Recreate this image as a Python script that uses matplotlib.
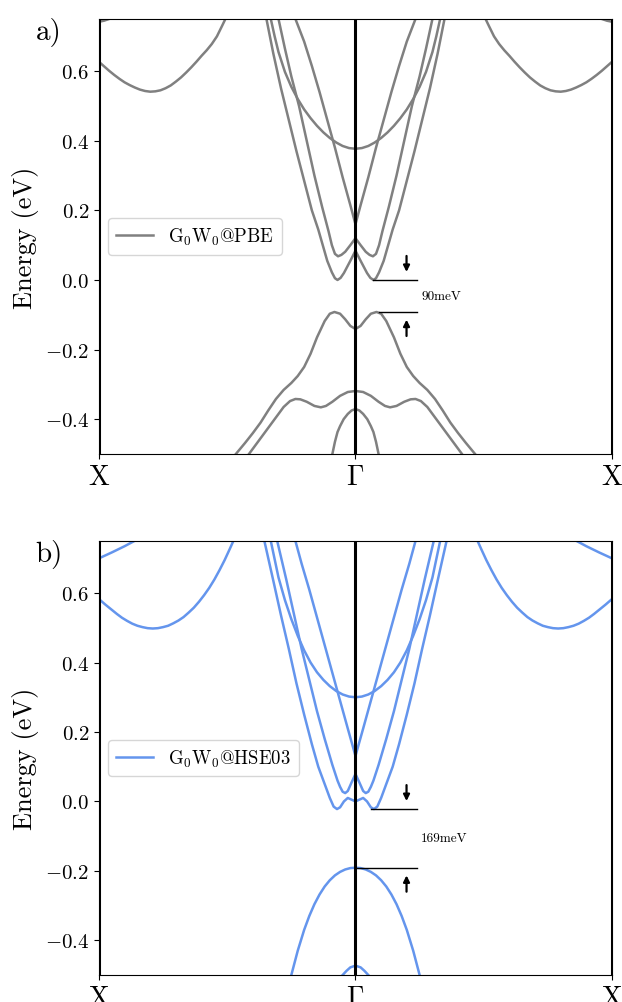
import matplotlib
matplotlib.use("Agg")
import matplotlib.pyplot as plt
import numpy as np

# k runs from Gamma (0) to X (1); bands are symmetric, only the Gamma-X half is listed
# ---------------- G0W0@PBE ----------------
pbe_c1_k = [0.507, 0.52, 0.54, 0.56, 0.58, 0.60, 0.62, 0.64, 0.66, 0.68, 0.70, 0.72, 0.74, 0.76,
            0.78, 0.80, 0.82, 0.84, 0.86, 0.88, 0.90, 0.92, 0.94, 0.96, 0.98, 1.0]
pbe_c1_e = [0.75, 0.73, 0.70, 0.678, 0.66, 0.644, 0.627, 0.611, 0.596, 0.582, 0.570, 0.559, 0.551,
            0.545, 0.542, 0.541, 0.543, 0.547, 0.553, 0.560, 0.568, 0.578, 0.589, 0.601, 0.614, 0.627]
pbe_c2_k = [0.96, 0.98, 1.0]
pbe_c2_e = [0.75, 0.745, 0.742]
pbe_par_k = [0.0, 0.025, 0.05, 0.075, 0.10, 0.125, 0.15, 0.175, 0.20, 0.225, 0.25, 0.275, 0.30,
             0.315, 0.33]
pbe_par_e = [0.377, 0.379, 0.385, 0.395, 0.408, 0.424, 0.443, 0.465, 0.49, 0.52, 0.555, 0.598,
             0.655, 0.70, 0.75]
pbe_v_k = [0.0, 0.02, 0.05, 0.08, 0.11, 0.14, 0.17, 0.20, 0.234]
pbe_v_e = [0.16, 0.215, 0.295, 0.38, 0.46, 0.54, 0.615, 0.685, 0.75]
pbe_w1_k = [0.0, 0.02, 0.04, 0.055, 0.068, 0.08, 0.092, 0.105, 0.13, 0.16, 0.19, 0.22, 0.25,
            0.275, 0.30]
pbe_w1_e = [0.12, 0.10, 0.081, 0.072, 0.068, 0.075, 0.10, 0.14, 0.21, 0.30, 0.40, 0.50, 0.585,
            0.665, 0.75]
pbe_w2_k = [0.0, 0.02, 0.045, 0.058, 0.07, 0.08, 0.092, 0.11, 0.145, 0.17, 0.20, 0.23, 0.26,
            0.29, 0.32, 0.347]
pbe_w2_e = [0.084, 0.055, 0.02, 0.006, 0.0, 0.005, 0.022, 0.055, 0.145, 0.20, 0.285, 0.37, 0.46,
            0.55, 0.65, 0.75]
pbe_vb1_k = [0.0, 0.02, 0.04, 0.06, 0.082, 0.10, 0.12, 0.15, 0.175, 0.20, 0.225, 0.25, 0.28,
             0.31, 0.34, 0.37, 0.40, 0.43, 0.466]
pbe_vb1_e = [-0.141, -0.132, -0.113, -0.097, -0.092, -0.097, -0.118, -0.165, -0.212, -0.25,
             -0.276, -0.296, -0.316, -0.342, -0.375, -0.41, -0.44, -0.468, -0.5]
pbe_vb2_k = [0.0, 0.03, 0.06, 0.09, 0.115, 0.135, 0.16, 0.19, 0.215, 0.234, 0.255, 0.28, 0.31,
             0.34, 0.37, 0.415]
pbe_vb2_e = [-0.319, -0.322, -0.333, -0.35, -0.362, -0.366, -0.362, -0.35, -0.343, -0.342,
             -0.348, -0.365, -0.395, -0.425, -0.455, -0.5]
pbe_vb3_k = [0.0, 0.015, 0.03, 0.046, 0.06, 0.07, 0.08, 0.09]
pbe_vb3_e = [-0.371, -0.375, -0.385, -0.40, -0.42, -0.437, -0.465, -0.5]
pbe_gap = dict(cbm=0.0, k_cbm=0.07, vbm=-0.092, k_vbm=0.09, text="90meV")

# ---------------- G0W0@HSE03 ----------------
hse_c1_k = [0.476, 0.49, 0.51, 0.53, 0.55, 0.57, 0.59, 0.61, 0.63, 0.65, 0.67, 0.69, 0.71, 0.73,
            0.75, 0.77, 0.79, 0.81, 0.83, 0.85, 0.87, 0.89, 0.91, 0.93, 0.95, 0.975, 1.0]
hse_c1_e = [0.75, 0.727, 0.695, 0.666, 0.639, 0.615, 0.594, 0.575, 0.558, 0.544, 0.531, 0.521,
            0.513, 0.506, 0.502, 0.499, 0.498, 0.499, 0.502, 0.506, 0.512, 0.520, 0.529, 0.540,
            0.552, 0.567, 0.583]
hse_c2_k = [0.862, 0.90, 0.95, 1.0]
hse_c2_e = [0.75, 0.735, 0.717, 0.70]
hse_par_k = [0.0, 0.025, 0.05, 0.075, 0.10, 0.125, 0.15, 0.175, 0.20, 0.225, 0.25, 0.275, 0.30, 0.33]
hse_par_e = [0.30, 0.302, 0.308, 0.318, 0.332, 0.35, 0.372, 0.40, 0.435, 0.477, 0.525, 0.58,
             0.645, 0.75]
hse_v_k = [0.0, 0.03, 0.06, 0.09, 0.12, 0.15, 0.18, 0.21, 0.234]
hse_v_e = [0.131, 0.21, 0.29, 0.37, 0.45, 0.53, 0.61, 0.685, 0.75]
hse_w1_k = [0.0, 0.015, 0.03, 0.04, 0.05, 0.06, 0.07, 0.09, 0.12, 0.15, 0.18, 0.21, 0.24, 0.27, 0.305]
hse_w1_e = [0.079, 0.055, 0.03, 0.024, 0.028, 0.042, 0.06, 0.105, 0.18, 0.26, 0.35, 0.44, 0.54,
            0.64, 0.75]
hse_w2_k = [0.0, 0.015, 0.03, 0.045, 0.06, 0.072, 0.085, 0.10, 0.12, 0.145, 0.17, 0.20, 0.23,
            0.26, 0.29, 0.32, 0.355]
hse_w2_e = [0.0, 0.005, 0.01, 0.0, -0.017, -0.022, -0.015, 0.01, 0.05, 0.10, 0.165, 0.25, 0.34,
            0.44, 0.535, 0.635, 0.75]
hse_vb1_k = [0.0, 0.02, 0.04, 0.06, 0.08, 0.10, 0.12, 0.14, 0.16, 0.18, 0.20, 0.225, 0.25]
hse_vb1_e = [-0.191, -0.192, -0.196, -0.203, -0.213, -0.227, -0.245, -0.268, -0.296, -0.33,
             -0.37, -0.43, -0.5]
hse_vb2_k = [0.0, 0.02, 0.035, 0.05]
hse_vb2_e = [-0.473, -0.478, -0.488, -0.5]
hse_gap = dict(cbm=-0.022, k_cbm=0.06, vbm=-0.191, k_vbm=0.0, text="169meV")

pbe_bands = [(pbe_c1_k, pbe_c1_e), (pbe_c2_k, pbe_c2_e), (pbe_par_k, pbe_par_e), (pbe_v_k, pbe_v_e),
             (pbe_w1_k, pbe_w1_e), (pbe_w2_k, pbe_w2_e), (pbe_vb1_k, pbe_vb1_e),
             (pbe_vb2_k, pbe_vb2_e), (pbe_vb3_k, pbe_vb3_e)]
hse_bands = [(hse_c1_k, hse_c1_e), (hse_c2_k, hse_c2_e), (hse_par_k, hse_par_e), (hse_v_k, hse_v_e),
             (hse_w1_k, hse_w1_e), (hse_w2_k, hse_w2_e), (hse_vb1_k, hse_vb1_e),
             (hse_vb2_k, hse_vb2_e)]

plt.rcParams.update({
    "font.family": "serif",
    "font.serif": ["cmr10"],
    "mathtext.fontset": "cm",
    "axes.formatter.use_mathtext": True,
    "axes.unicode_minus": True,
})


def draw_bands(ax, bands, colour, label):
    first = True
    for k, e in bands:
        k, e = np.asarray(k), np.asarray(e)
        if k[0] == 0.0:
            kk = np.concatenate([-k[::-1], k[1:]])
            ee = np.concatenate([e[::-1], e[1:]])
            ax.plot(kk, ee, color=colour, lw=1.8, label=label if first else None)
        else:
            ax.plot(k, e, color=colour, lw=1.8, label=label if first else None)
            ax.plot(-k, e, color=colour, lw=1.8)
        first = False


def draw_gap(ax, gap):
    x_end, x_arr = 0.238, 0.199
    ax.plot([gap["k_cbm"], x_end], [gap["cbm"], gap["cbm"]], color="k", lw=1)
    ax.plot([gap["k_vbm"], x_end], [gap["vbm"], gap["vbm"]], color="k", lw=1)
    arr = dict(arrowstyle="-|>", color="k", lw=1.6, mutation_scale=9, shrinkA=0, shrinkB=0)
    ax.annotate("", xy=(x_arr, gap["cbm"] + 0.023), xytext=(x_arr, gap["cbm"] + 0.069), arrowprops=arr)
    ax.annotate("", xy=(x_arr, gap["vbm"] - 0.022), xytext=(x_arr, gap["vbm"] - 0.069), arrowprops=arr)
    ax.text(0.256, (gap["cbm"] + gap["vbm"]) / 2, gap["text"], fontsize=9.5, va="center", ha="left")


fig = plt.figure(figsize=(6.22, 10.03), dpi=100)
ax1 = fig.add_axes([0.159, 0.5464, 0.825, 0.4337])
ax2 = fig.add_axes([0.159, 0.0269, 0.825, 0.4327])

for ax, bands, colour, label, gap, tag in [
        (ax1, pbe_bands, "grey", r"G$_0$W$_0$@PBE", pbe_gap, "a)"),
        (ax2, hse_bands, "cornflowerblue", r"G$_0$W$_0$@HSE03", hse_gap, "b)")]:
    draw_bands(ax, bands, colour, label)
    draw_gap(ax, gap)
    for xv in (-1, 0, 1):
        ax.axvline(xv, color="k", lw=2.2)
    ax.set_xlim(-1, 1)
    ax.set_ylim(-0.5, 0.75)
    ax.set_xticks([-1, 0, 1])
    ax.set_xticklabels(["X", r"$\Gamma$", "X"], fontsize=20)
    ax.tick_params(axis="y", labelsize=15)
    ax.set_ylabel("Energy (eV)", fontsize=19)
    ax.legend(loc="center left", fontsize=13.5, borderaxespad=0.5)
    ax.text(-0.123, 0.972, tag, transform=ax.transAxes, fontsize=21, va="center", ha="left")

fig.savefig("out.png", dpi=100)
